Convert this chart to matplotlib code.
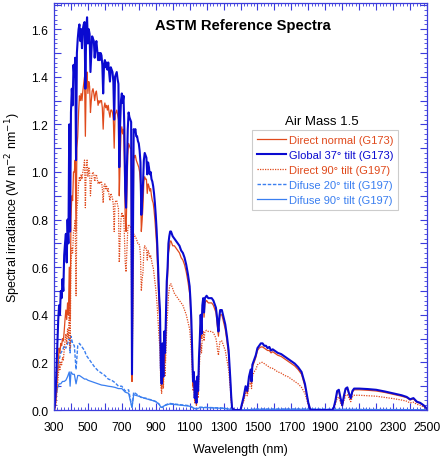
import numpy as np
import matplotlib
matplotlib.use("Agg")
import matplotlib.pyplot as plt
from matplotlib.ticker import MultipleLocator, FuncFormatter

plt.rcParams['font.family'] = ['Liberation Sans', 'DejaVu Sans']

# visible / near-IR part, 5 nm grid 300..1000
wl_vis = np.arange(300, 1001, 5)

global_vis = [
	0.00, 0.02, 0.08, 0.18, 0.28, 0.38, 0.44, 0.40, 0.50, 0.47,
	0.55, 0.50, 0.65, 0.70, 0.74, 0.62, 0.80, 0.70, 1.20, 0.75,
	1.25, 1.35, 1.28, 1.45, 1.40, 1.48, 1.05, 1.50, 1.56, 1.60,
	1.62, 1.55, 1.60, 1.52, 1.60, 1.62, 1.63, 1.35, 1.60, 1.65,
	1.54, 1.60, 1.58, 1.42, 1.50, 1.57, 1.56, 1.55, 1.48, 1.53,
	1.55, 1.51, 1.47, 1.50, 1.47, 1.50, 1.49, 1.45, 1.33, 1.45,
	1.47, 1.44, 1.46, 1.43, 1.46, 1.42, 1.38, 1.44, 1.43, 1.42,
	1.38, 1.22, 1.40, 1.41, 1.42, 1.39, 1.37, 1.02, 1.20, 1.30,
	1.33, 1.29, 1.32, 1.18, 0.92, 0.85, 1.02, 1.18, 1.25, 1.23,
	1.22, 1.21, 0.15, 0.70, 1.18, 1.17, 1.18, 1.15, 1.15, 1.13,
	1.12, 1.09, 1.04, 0.82, 0.88, 0.95, 1.05, 1.08, 1.07, 1.06,
	0.99, 1.04, 1.02, 0.99, 1.00, 0.97, 0.96, 0.94, 0.91, 0.87,
	0.82, 0.76, 0.68, 0.58, 0.48, 0.42, 0.18, 0.11, 0.28, 0.14,
	0.33, 0.24, 0.40, 0.54, 0.60, 0.70, 0.73, 0.75, 0.75, 0.74,
	0.73]

direct_vis = [
	0.00, 0.005, 0.03, 0.08, 0.15, 0.20, 0.26, 0.24, 0.28, 0.27,
	0.30, 0.29, 0.33, 0.38, 0.42, 0.38, 0.45, 0.40, 0.60, 0.38,
	0.80, 0.90, 0.88, 1.00, 1.00, 1.05, 0.75, 1.10, 1.15, 1.25,
	1.32, 1.30, 1.33, 1.30, 1.34, 1.37, 1.40, 1.15, 1.38, 1.42,
	1.33, 1.38, 1.36, 1.25, 1.30, 1.34, 1.35, 1.33, 1.30, 1.33,
	1.34, 1.31, 1.28, 1.30, 1.29, 1.30, 1.30, 1.27, 1.18, 1.27,
	1.29, 1.27, 1.28, 1.26, 1.28, 1.25, 1.23, 1.26, 1.26, 1.25,
	1.22, 1.10, 1.24, 1.25, 1.26, 1.24, 1.22, 0.90, 1.05, 1.16,
	1.19, 1.16, 1.18, 1.05, 0.80, 0.75, 0.92, 1.07, 1.12, 1.11,
	1.10, 1.10, 0.12, 0.55, 1.07, 1.06, 1.07, 1.05, 1.04, 1.03,
	1.02, 1.00, 0.95, 0.75, 0.80, 0.86, 0.96, 0.98, 0.97, 0.97,
	0.91, 0.95, 0.94, 0.92, 0.93, 0.90, 0.88, 0.87, 0.84, 0.80,
	0.75, 0.70, 0.62, 0.52, 0.42, 0.38, 0.15, 0.09, 0.25, 0.12,
	0.30, 0.20, 0.35, 0.50, 0.56, 0.66, 0.68, 0.71, 0.71, 0.70,
	0.69]

direct90_vis = [
	0.00, 0.003, 0.02, 0.06, 0.10, 0.14, 0.19, 0.17, 0.20, 0.19,
	0.22, 0.21, 0.25, 0.29, 0.32, 0.28, 0.34, 0.30, 0.45, 0.26,
	0.60, 0.68, 0.66, 0.75, 0.76, 0.80, 0.48, 0.84, 0.88, 0.95,
	0.98, 0.96, 0.99, 0.97, 1.00, 1.02, 1.05, 0.85, 1.02, 1.05,
	0.98, 1.02, 1.00, 0.90, 0.96, 0.99, 1.00, 0.99, 0.96, 0.98,
	0.99, 0.97, 0.95, 0.96, 0.95, 0.96, 0.96, 0.93, 0.87, 0.94,
	0.95, 0.93, 0.94, 0.92, 0.93, 0.90, 0.88, 0.91, 0.90, 0.89,
	0.86, 0.75, 0.87, 0.88, 0.88, 0.86, 0.85, 0.62, 0.72, 0.80,
	0.83, 0.81, 0.82, 0.74, 0.62, 0.58, 0.67, 0.76, 0.78, 0.77,
	0.77, 0.76, 0.12, 0.40, 0.74, 0.73, 0.73, 0.72, 0.71, 0.70,
	0.70, 0.69, 0.65, 0.50, 0.55, 0.58, 0.67, 0.69, 0.68, 0.68,
	0.63, 0.67, 0.66, 0.64, 0.65, 0.63, 0.61, 0.60, 0.57, 0.54,
	0.51, 0.47, 0.42, 0.36, 0.30, 0.26, 0.10, 0.07, 0.18, 0.09,
	0.20, 0.14, 0.25, 0.35, 0.41, 0.48, 0.51, 0.53, 0.53, 0.52,
	0.51]

# infrared part, uneven grid
wl_ir = [
	1010, 1020, 1030, 1040, 1050, 1060, 1070, 1080, 1090, 1100,
	1105, 1110, 1115, 1120, 1125, 1130, 1135, 1140, 1145, 1150,
	1155, 1160, 1165, 1170, 1175, 1180, 1185, 1190, 1200, 1210,
	1220, 1230, 1240, 1250, 1255, 1260, 1265, 1270, 1275, 1280,
	1290, 1300, 1310, 1320, 1330, 1340, 1345, 1350, 1360, 1400,
	1410, 1420, 1430, 1440, 1450, 1460, 1465, 1470, 1480, 1490,
	1500, 1510, 1520, 1530, 1540, 1550, 1560, 1570, 1580, 1590,
	1600, 1620, 1640, 1660, 1680, 1700, 1720, 1740, 1760, 1780,
	1790, 1800, 1810, 1820, 1900, 1940, 1950, 1960, 1970, 1980,
	1990, 2000, 2010, 2020, 2030, 2040, 2050, 2060, 2070, 2080,
	2100, 2150, 2200, 2250, 2300, 2350, 2380, 2400, 2420, 2440,
	2460, 2480, 2500]

global_ir = [
	0.72, 0.71, 0.70, 0.69, 0.67, 0.66, 0.64, 0.61, 0.57, 0.52,
	0.46, 0.38, 0.25, 0.12, 0.16, 0.05, 0.12, 0.03, 0.14, 0.08,
	0.22, 0.30, 0.40, 0.32, 0.44, 0.47, 0.41, 0.47, 0.48, 0.47,
	0.47, 0.47, 0.46, 0.44, 0.43, 0.40, 0.36, 0.33, 0.39, 0.42,
	0.42, 0.39, 0.36, 0.31, 0.25, 0.13, 0.06, 0.01, 0.00, 0.00,
	0.03, 0.06, 0.10, 0.08, 0.14, 0.17, 0.12, 0.19, 0.21, 0.23,
	0.26, 0.27, 0.28, 0.28, 0.27, 0.27, 0.26, 0.265, 0.25, 0.255,
	0.25, 0.24, 0.235, 0.225, 0.215, 0.205, 0.195, 0.18, 0.16, 0.11,
	0.07, 0.03, 0.005, 0.0, 0.0, 0.0, 0.01, 0.04, 0.08, 0.085,
	0.05, 0.02, 0.06, 0.09, 0.095, 0.07, 0.05, 0.08, 0.09, 0.09,
	0.09, 0.088, 0.085, 0.078, 0.07, 0.062, 0.055, 0.045, 0.05, 0.035,
	0.03, 0.02, 0.005]

direct_ir = [
	0.69, 0.68, 0.67, 0.66, 0.64, 0.63, 0.61, 0.58, 0.54, 0.49,
	0.43, 0.35, 0.22, 0.10, 0.14, 0.04, 0.10, 0.02, 0.12, 0.07,
	0.20, 0.28, 0.38, 0.30, 0.42, 0.45, 0.39, 0.45, 0.46, 0.45,
	0.45, 0.45, 0.44, 0.42, 0.41, 0.38, 0.34, 0.31, 0.37, 0.40,
	0.40, 0.37, 0.34, 0.29, 0.23, 0.12, 0.05, 0.01, 0.00, 0.00,
	0.025, 0.05, 0.09, 0.07, 0.13, 0.16, 0.11, 0.18, 0.20, 0.22,
	0.25, 0.26, 0.265, 0.265, 0.26, 0.255, 0.25, 0.25, 0.24, 0.245,
	0.24, 0.23, 0.225, 0.215, 0.205, 0.195, 0.185, 0.17, 0.15, 0.10,
	0.065, 0.03, 0.005, 0.0, 0.0, 0.0, 0.01, 0.035, 0.075, 0.08,
	0.045, 0.02, 0.055, 0.085, 0.09, 0.065, 0.045, 0.075, 0.085, 0.085,
	0.085, 0.083, 0.08, 0.074, 0.066, 0.058, 0.052, 0.042, 0.047, 0.033,
	0.028, 0.018, 0.004]

direct90_ir = [
	0.49, 0.48, 0.47, 0.46, 0.45, 0.44, 0.42, 0.40, 0.37, 0.34,
	0.30, 0.25, 0.18, 0.08, 0.10, 0.03, 0.07, 0.02, 0.08, 0.05,
	0.15, 0.22, 0.28, 0.24, 0.31, 0.33, 0.29, 0.33, 0.335, 0.33,
	0.33, 0.33, 0.325, 0.31, 0.30, 0.28, 0.25, 0.23, 0.27, 0.29,
	0.29, 0.27, 0.25, 0.21, 0.17, 0.09, 0.04, 0.01, 0.00, 0.00,
	0.02, 0.04, 0.07, 0.06, 0.10, 0.12, 0.09, 0.14, 0.16, 0.17,
	0.19, 0.195, 0.20, 0.20, 0.195, 0.19, 0.185, 0.18, 0.175, 0.175,
	0.17, 0.16, 0.155, 0.145, 0.14, 0.13, 0.12, 0.11, 0.095, 0.07,
	0.045, 0.02, 0.003, 0.0, 0.0, 0.0, 0.007, 0.025, 0.05, 0.055,
	0.03, 0.015, 0.04, 0.06, 0.065, 0.05, 0.035, 0.055, 0.062, 0.062,
	0.062, 0.06, 0.058, 0.053, 0.048, 0.042, 0.037, 0.03, 0.033, 0.024,
	0.02, 0.013, 0.003]

# diffuse components
wl_diff = [
	300, 310, 320, 330, 340, 350, 360, 370, 380, 390,
	395, 400, 410, 420, 430, 440, 450, 460, 470, 480,
	490, 500, 520, 540, 560, 580, 600, 620, 640, 660,
	680, 700, 720, 740, 760, 770, 780, 800, 820, 840,
	860, 880, 900, 920, 930, 940, 950, 960, 980, 1000,
	1050, 1100, 1120, 1140, 1160, 1200, 1300, 1350, 1400, 1500,
	1800, 2000, 2500]

diffuse20 = [
	0.00, 0.08, 0.16, 0.21, 0.24, 0.25, 0.27, 0.26, 0.28, 0.30,
	0.24, 0.31, 0.28, 0.27, 0.17, 0.27, 0.28, 0.27, 0.26, 0.25,
	0.23, 0.22, 0.20, 0.18, 0.165, 0.155, 0.145, 0.13, 0.125, 0.115,
	0.10, 0.10, 0.08, 0.085, 0.01, 0.075, 0.07, 0.06, 0.05, 0.05,
	0.045, 0.042, 0.035, 0.025, 0.012, 0.012, 0.02, 0.022, 0.028, 0.026,
	0.022, 0.018, 0.01, 0.005, 0.012, 0.011, 0.008, 0.002, 0.0, 0.004,
	0.004, 0.003, 0.001]

diffuse90 = [
	0.00, 0.05, 0.09, 0.11, 0.11, 0.12, 0.12, 0.125, 0.14, 0.16,
	0.10, 0.16, 0.15, 0.15, 0.11, 0.145, 0.145, 0.14, 0.135, 0.13,
	0.13, 0.125, 0.12, 0.115, 0.11, 0.105, 0.103, 0.10, 0.098, 0.095,
	0.09, 0.09, 0.075, 0.07, 0.01, 0.065, 0.062, 0.058, 0.053, 0.048,
	0.044, 0.04, 0.036, 0.024, 0.012, 0.01, 0.018, 0.02, 0.025, 0.024,
	0.02, 0.016, 0.009, 0.004, 0.01, 0.01, 0.007, 0.002, 0.0, 0.003,
	0.003, 0.002, 0.001]

wl = np.concatenate([wl_vis, wl_ir])
global37 = np.array(global_vis + global_ir)
direct_normal = np.array(direct_vis + direct_ir)
direct90 = np.array(direct90_vis + direct90_ir)

c_red = '#e04a1c'
c_blue = '#0a0ad0'
c_light = '#3a7ff0'
c_axis = '#3c3cdc'

fig = plt.figure(figsize=(4.43, 4.6), dpi=100)
ax = fig.add_axes([0.1219, 0.1065, 0.842, 0.8848])

h5, = ax.plot(wl_diff, diffuse90, color=c_light, lw=0.9, label='Difuse 90° tilt (G197)')
h4, = ax.plot(wl_diff, diffuse20, color=c_light, lw=1.0, ls=(0, (2.5, 1.2)), label='Difuse 20° tilt (G197)')
h3, = ax.plot(wl, direct90, color=c_red, lw=0.9, ls=(0, (1, 1)), label='Direct 90° tilt (G197)')
h1, = ax.plot(wl, direct_normal, color=c_red, lw=0.9, label='Direct normal (G173)')
h2, = ax.plot(wl, global37, color=c_blue, lw=1.5, label='Global 37° tilt (G173)')

ax.set_xlim(300, 2500)
ax.set_ylim(0, 1.71)

ax.xaxis.set_major_locator(MultipleLocator(100))
ax.xaxis.set_minor_locator(MultipleLocator(20))
ax.xaxis.set_major_formatter(FuncFormatter(lambda v, p: f"{v:.0f}" if int(round(v - 300)) % 200 == 0 else ""))
ax.yaxis.set_major_locator(MultipleLocator(0.1))
ax.yaxis.set_minor_locator(MultipleLocator(0.02))
ax.yaxis.set_major_formatter(FuncFormatter(lambda v, p: f"{v:.1f}" if int(round(v * 10)) % 2 == 0 else ""))

ax.tick_params(which='both', direction='in', top=True, right=True, color=c_axis, labelsize=8.7, labelcolor='black')
ax.tick_params(which='major', length=5, width=0.8)
ax.tick_params(which='minor', length=2.5, width=0.6)
ax.tick_params(axis='x', which='major', pad=8)
ax.tick_params(axis='y', which='major', pad=4)
for s in ax.spines.values():
	s.set_color(c_axis)
	s.set_linewidth(0.9)

ax.set_xlabel('Wavelength (nm)', fontsize=9, labelpad=7)
ax.set_ylabel('Spectral irradiance (W m$^{-2}$ nm$^{-1}$)', fontsize=9, labelpad=6)

ax.text(0.507, 0.945, 'ASTM Reference Spectra', transform=ax.transAxes, ha='center', va='center', fontsize=10.6, fontweight='bold')
ax.text(0.719, 0.71, 'Air Mass 1.5', transform=ax.transAxes, ha='center', va='center', fontsize=9.5)

leg = ax.legend(handles=[h1, h2, h3, h4, h5], loc='upper left', bbox_to_anchor=(0.515, 0.702),
	fontsize=8, labelcolor='linecolor', handlelength=2.6, handletextpad=0.3, labelspacing=0.45,
	borderpad=0.45, fancybox=False, framealpha=1)
leg.get_frame().set_edgecolor('#cccccc')
leg.get_frame().set_linewidth(0.8)

fig.savefig('out.png', dpi=100)
